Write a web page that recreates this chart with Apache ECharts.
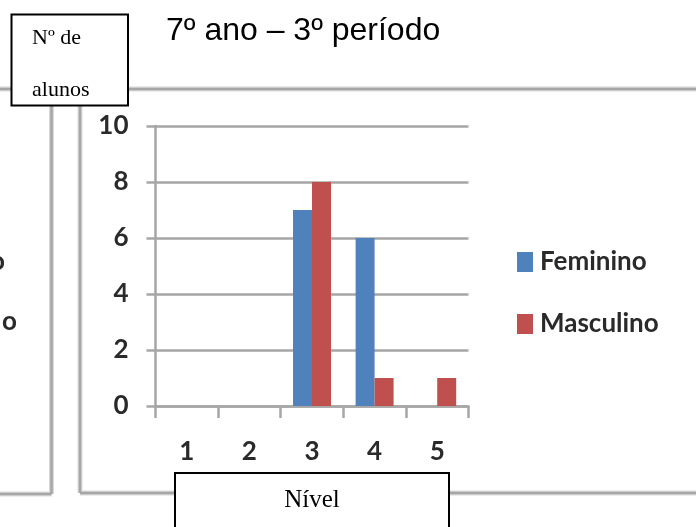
<!DOCTYPE html>
<html>
<head>
<meta charset="utf-8">
<script src="https://cdn.jsdelivr.net/npm/echarts@6/dist/echarts.min.js"></script>
<style>
html,body{margin:0;padding:0;background:#fff;}
#chart{width:696px;height:527px;}
</style>
</head>
<body>
<div id="chart"></div>
<script>
var categories = ['1', '2', '3', '4', '5'];
var feminino = [0, 0, 7, 6, 0];
var masculino = [0, 0, 8, 1, 1];
var seriesNames = ['Feminino', 'Masculino'];
var yTicks = [0, 10, 2];
var titleText = '7º ano – 3º período';
var yName = ['Nº de', 'alunos'];
var xName = 'Nível';

var chart = echarts.init(document.getElementById('chart'));
var gray = '#a6a6a6';
var light = '#d9d9d9';
var lblFont = 'Lato, "Open Sans", sans-serif';
var txtColor = '#2a2a2a';

function frameLine(x1, y1, x2, y2) {
  return [
    {type: 'line', shape: {x1: x1, y1: y1, x2: x2, y2: y2}, style: {stroke: light, lineWidth: 5}, z: 1},
    {type: 'line', shape: {x1: x1, y1: y1, x2: x2, y2: y2}, style: {stroke: gray, lineWidth: 2.5}, z: 2}
  ];
}

var graphics = [].concat(
  frameLine(0, 89, 696, 89),
  frameLine(51.5, 89, 51.5, 494),
  frameLine(0, 494, 51.5, 494),
  frameLine(80, 89, 80, 493),
  frameLine(80, 493, 696, 493),
  [
    {type: 'text', x: 5, y: 262, z: 5, style: {text: 'o', fill: txtColor, font: 'bold 26px ' + lblFont, textAlign: 'right', textVerticalAlign: 'middle'}},
    {type: 'text', x: 2, y: 322, z: 5, style: {text: 'o', fill: txtColor, font: 'bold 26px ' + lblFont, textAlign: 'left', textVerticalAlign: 'middle'}},
    {type: 'rect', shape: {x: 11.5, y: 14.5, width: 116.5, height: 91}, style: {fill: '#fff', stroke: '#000', lineWidth: 2}, z: 10},
    {type: 'text', x: 32, y: 38, z: 11, style: {text: yName[0], fill: '#000', font: '22px "Liberation Serif", serif', textVerticalAlign: 'middle'}},
    {type: 'text', x: 32, y: 90, z: 11, style: {text: yName[1], fill: '#000', font: '22px "Liberation Serif", serif', textVerticalAlign: 'middle'}},
    {type: 'rect', shape: {x: 175, y: 473, width: 274, height: 80}, style: {fill: '#fff', stroke: '#000', lineWidth: 2}, z: 10},
    {type: 'text', x: 312, y: 500, z: 11, style: {text: xName, fill: '#000', font: '25px "Liberation Serif", serif', textAlign: 'center', textVerticalAlign: 'middle'}}
  ]
);

var option = {
  animation: false,
  backgroundColor: '#fff',
  title: {
    text: titleText,
    left: 166, top: 15,
    padding: 0,
    textStyle: {fontFamily: '"Liberation Sans", Arial, sans-serif', fontSize: 32, fontWeight: 'normal', color: '#000'}
  },
  legend: {
    orient: 'vertical',
    left: 517, top: 249,
    padding: 0,
    itemWidth: 16, itemHeight: 20,
    itemGap: 36,
    icon: 'rect',
    data: seriesNames,
    textStyle: {fontFamily: lblFont, fontSize: 26, fontWeight: 'bold', color: txtColor, lineHeight: 20, padding: [0, 0, 0, 2]}
  },
  grid: {left: 155.5, right: 696 - 468.5, top: 126, bottom: 527 - 406, containLabel: false},
  xAxis: {
    type: 'category',
    data: categories,
    axisLine: {show: true, lineStyle: {color: gray, width: 2.5}},
    axisTick: {show: true, length: 12, alignWithLabel: false, lineStyle: {color: gray, width: 2.5}},
    axisLabel: {margin: 33, fontFamily: lblFont, fontSize: 26, fontWeight: 'bold', color: txtColor},
    z: 3
  },
  yAxis: {
    type: 'value',
    min: yTicks[0], max: yTicks[1], interval: yTicks[2],
    axisLine: {show: true, lineStyle: {color: gray, width: 2.5}},
    axisTick: {show: true, length: 9, lineStyle: {color: gray, width: 2.5}},
    splitLine: {show: true, lineStyle: {color: gray, width: 2.5}},
    axisLabel: {margin: 27, fontFamily: lblFont, fontSize: 26, fontWeight: 'bold', color: txtColor}
  },
  series: [
    {name: seriesNames[0], type: 'bar', data: feminino, barWidth: 19, barGap: '0%', itemStyle: {color: '#4F81BD'}, z: 4},
    {name: seriesNames[1], type: 'bar', data: masculino, barWidth: 19, barGap: '0%', itemStyle: {color: '#C0504D'}, z: 4}
  ],
  graphic: graphics
};
chart.setOption(option);
</script>
</body>
</html>
